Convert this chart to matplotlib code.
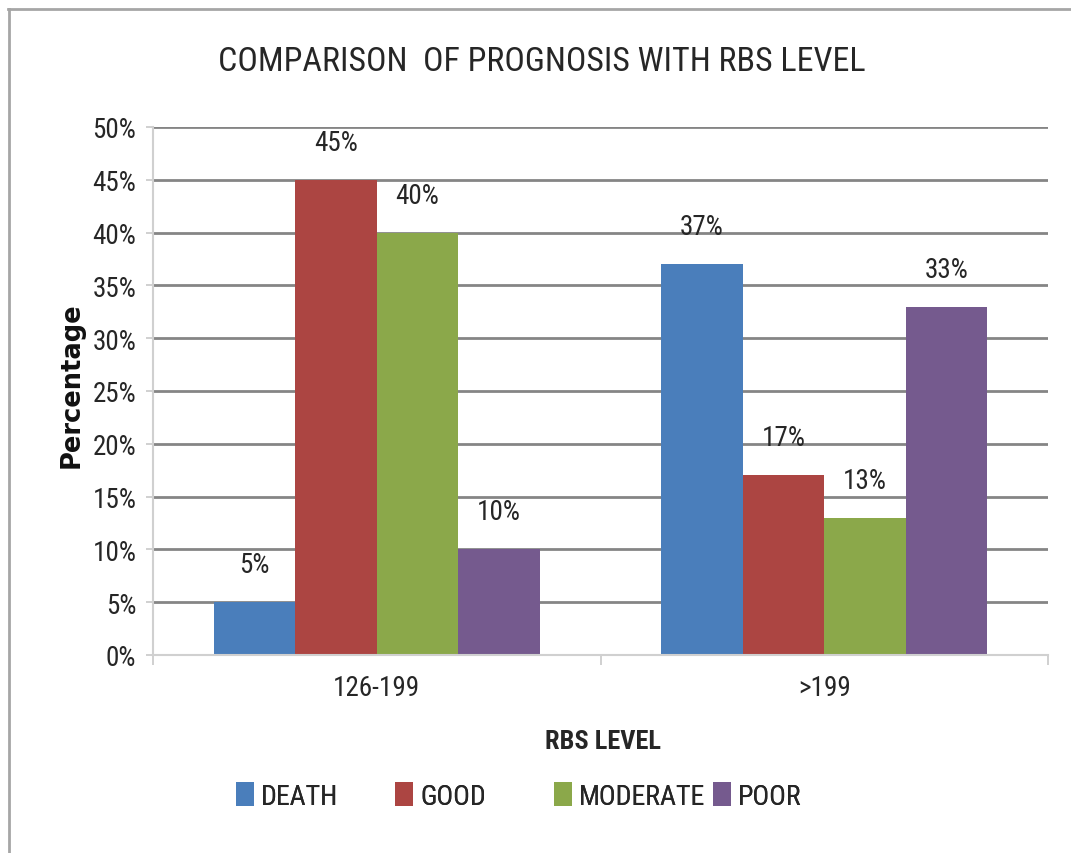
import matplotlib
matplotlib.use("Agg")
import matplotlib.pyplot as plt
from matplotlib.lines import Line2D
from matplotlib.patches import Patch
import numpy as np

# ---- data ----
categories = ["126-199", ">199"]
series_names = ["DEATH", "GOOD", "MODERATE", "POOR"]
death = [5, 37]
good = [45, 17]
moderate = [40, 13]
poor = [10, 33]
yticks = [0, 5, 10, 15, 20, 25, 30, 35, 40, 45, 50]

colors = ["#4A7EBB", "#AC4542", "#8BA84A", "#755A8E"]
text_color = "#262626"
narrow = ["Roboto Condensed", "Liberation Sans Narrow", "DejaVu Sans"]

plt.rcParams["font.family"] = narrow
plt.rcParams["font.stretch"] = "condensed"

W, H = 1071, 854
fig = plt.figure(figsize=(W / 100, H / 100), dpi=100)
ax = fig.add_axes([153 / W, 1 - 656 / H, (1048 - 153) / W, (656 - 128) / H])

series = [death, good, moderate, poor]
x = np.arange(len(categories))
bw = 0.182
for i, (name, vals, c) in enumerate(zip(series_names, series, colors)):
    pos = x + (i - 1.5) * bw
    ax.bar(pos, vals, width=bw, color=c, edgecolor="none", zorder=3, label=name)
    for px, v in zip(pos, vals):
        ax.annotate(f"{v}%", xy=(px, v), xytext=(0, 27), textcoords="offset points",
                    ha="center", va="center", fontsize=19.5, color=text_color)

ax.set_xlim(-0.5, 1.5)
ax.set_ylim(0, 50)
ax.set_yticks(yticks)
ax.set_yticklabels([f"{t}%" for t in yticks])
ax.set_xticks(x)
ax.set_xticklabels(categories)
ax.set_xticks([-0.5, 0.5, 1.5], minor=True)

ax.tick_params(axis="y", length=5, width=1.2, color="#c8c8c8", pad=7,
               labelsize=19.5, labelcolor=text_color)
ax.tick_params(axis="x", which="major", length=0, pad=14,
               labelsize=19.5, labelcolor=text_color)
ax.tick_params(axis="x", which="minor", length=7, width=1.2, color="#c8c8c8")

ax.yaxis.grid(True, color="#858585", linewidth=2.0, zorder=0)
ax.set_axisbelow(True)
for s in ["top", "right"]:
    ax.spines[s].set_visible(False)
for s in ["left", "bottom"]:
    ax.spines[s].set_color("#d0d0d0")
    ax.spines[s].set_linewidth(1.5)
    ax.spines[s].set_zorder(4)

# titles
fig.text(542 / W, 1 - 62 / H, "COMPARISON  OF PROGNOSIS WITH RBS LEVEL",
         ha="center", va="center", fontsize=24.5, color=text_color)
fig.text(603 / W, 1 - 742 / H, "RBS LEVEL", ha="center", va="center",
         fontsize=19, fontweight="bold", color=text_color)
fig.text(72 / W, 1 - 385 / H, "Percentage", ha="center", va="center",
         rotation=90, fontsize=18.5, fontweight="bold", color="#111111",
         family=["DejaVu Sans"], fontstretch="normal")

# legend: one fixed-width slot per series
slots = [236, 395, 554, 713]
for name, c, sx in zip(series_names, colors, slots):
    leg = fig.legend(handles=[Patch(facecolor=c, edgecolor="none")], labels=[name],
                     loc="center left", bbox_to_anchor=(sx / W, 1 - 797 / H),
                     frameon=False, borderpad=0, borderaxespad=0,
                     handlelength=0.65, handleheight=0.9, handletextpad=0.25,
                     fontsize=20, labelcolor=text_color)
    fig.add_artist(leg)

# outer frame (left and top edges)
fig.add_artist(Line2D([8.5 / W, 8.5 / W], [0, 1 - 10 / H], transform=fig.transFigure,
                      color="#a6a6a6", linewidth=2))
fig.add_artist(Line2D([8 / W, 1], [1 - 10 / H, 1 - 10 / H], transform=fig.transFigure,
                      color="#a6a6a6", linewidth=2))

fig.savefig("out.png", dpi=100, facecolor="white")
